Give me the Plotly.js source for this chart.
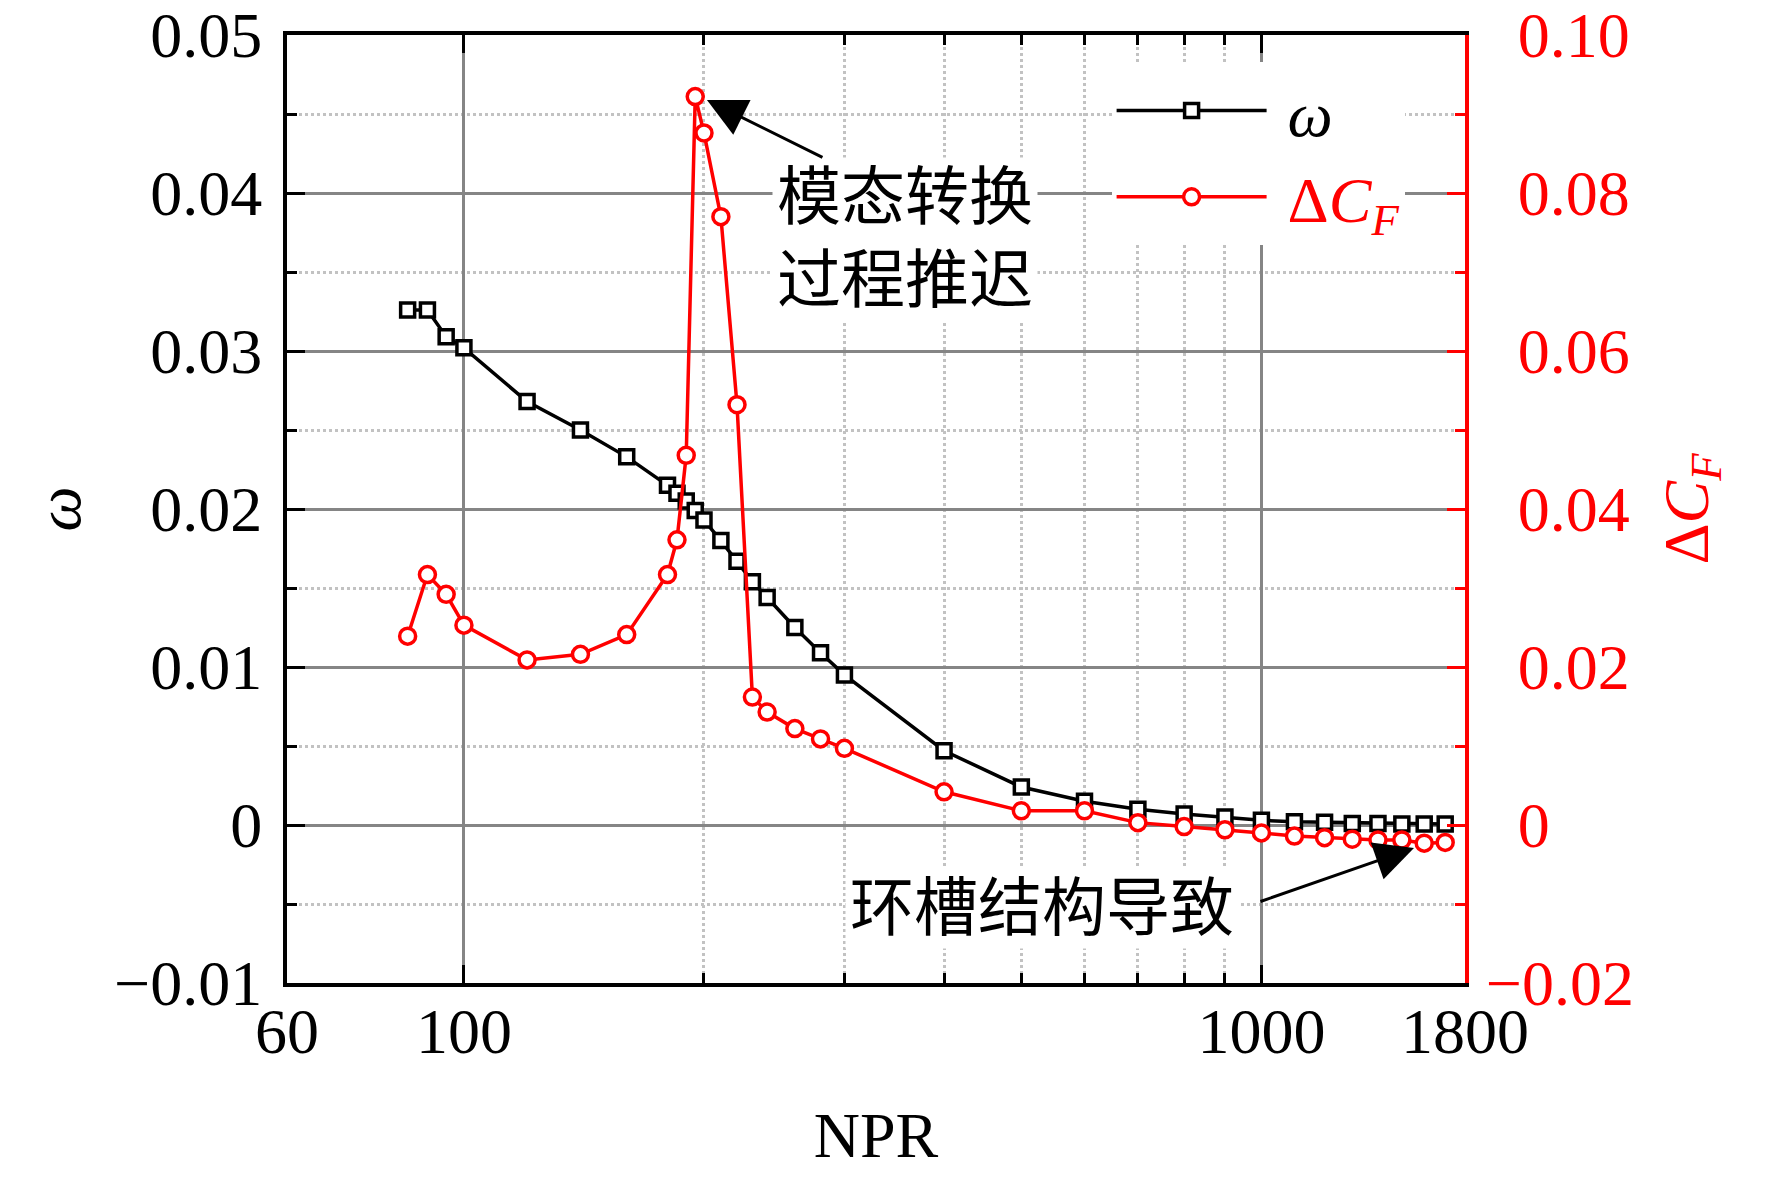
<!DOCTYPE html>
<html>
<head>
<meta charset="utf-8">
<script src="https://cdn.plot.ly/plotly-3.0.1.min.js"></script>
<style>
  html, body { margin: 0; padding: 0; background: #fff; }
</style>
</head>
<body>
<div id="chart"></div>
<script>
// NPR values (log axis)
const npr = [85, 90, 95, 100, 120, 140, 160, 180, 185, 190, 195, 200, 210, 220, 230, 240,
  260, 280, 300, 400, 500, 600, 700, 800, 900, 1000, 1100, 1200, 1300, 1400, 1500, 1600, 1700];

// omega, left axis
const omega = [0.0326, 0.0326, 0.0309, 0.0302, 0.0268, 0.0250, 0.0233, 0.0215, 0.0210, 0.0205,
  0.0199, 0.0193, 0.0180, 0.0167, 0.0154, 0.0144, 0.0125, 0.0109, 0.0095, 0.0047, 0.0024,
  0.0015, 0.0010, 0.0007, 0.0005, 0.0003, 0.0002, 0.00017, 0.0001, 0.0001, 0.00006, 0.00006, 0.00006];

// delta C_F, right axis
const dCF = [0.0239, 0.0317, 0.0292, 0.0253, 0.0209, 0.0216, 0.0241, 0.0317, 0.0361, 0.0468,
  0.0922, 0.0876, 0.0770, 0.0532, 0.0162, 0.0143, 0.0122, 0.0109, 0.0097, 0.0042, 0.0018,
  0.0018, 0.0003, -0.0002, -0.0006, -0.0010, -0.0014, -0.0016, -0.0018, -0.0019, -0.0019, -0.0023, -0.0022];

const xTicks = [60, 100, 1000, 1800];
const xMinor = [200, 300, 400, 500, 600, 700, 800, 900];
const y2Ticks = [-0.02, 0, 0.02, 0.04, 0.06, 0.08, 0.10];
// figure space in front keeps the right-hand labels lined up on their right edge
const y2Text = ['\u22120.02', '\u20070', '\u20070.02', '\u20070.04', '\u20070.06', '\u20070.08', '\u20070.10'];
const y2Minor = [-0.01, 0.01, 0.03, 0.05, 0.07, 0.09];

const SERIF = '"Liberation Serif", "Times New Roman", "Noto Sans CJK SC", serif';
const RED = 'rgb(255,0,0)';
const GRID = '#858585';
const DOT = '#c2c2c2';

var trace1 = {
  x: npr,
  y: omega,
  name: '\u00a0<i>ω</i>',
  type: 'scatter',
  mode: 'lines+markers',
  line: {color: 'black', width: 3.5},
  marker: {symbol: 'square', size: 14, color: 'white', line: {color: 'black', width: 3.5}},
  yaxis: 'y'
};

var trace2 = {
  x: npr,
  y: dCF,
  name: '\u00a0<span style="color:rgb(255,0,0)">Δ<i>C</i><sub><i>F</i></sub></span>',
  type: 'scatter',
  mode: 'lines+markers',
  line: {color: RED, width: 3.5},
  marker: {symbol: 'circle', size: 16, color: 'white', line: {color: RED, width: 3.5}},
  yaxis: 'y2'
};

var data = [trace1, trace2];

var layout = {
  width: 1772,
  height: 1177,
  margin: {l: 287, r: 307, t: 35, b: 194},
  paper_bgcolor: 'white',
  plot_bgcolor: 'white',
  font: {family: SERIF, size: 64, color: 'black'},
  showlegend: true,
  legend: {
    x: 0.70, y: 0.971, xanchor: 'left', yanchor: 'top',
    bgcolor: 'white', borderwidth: 0,
    font: {family: SERIF, size: 64, color: 'black'},
    itemwidth: 150
  },
  xaxis: {
    type: 'log',
    range: [Math.log10(60), Math.log10(1800)],
    tickvals: xTicks,
    ticktext: xTicks.map(String),
    showline: true, linecolor: 'black', linewidth: 4, mirror: 'ticks',
    ticks: 'inside', ticklen: 18, tickwidth: 3, tickcolor: 'black',
    ticklabelstandoff: -11,
    showgrid: true, gridcolor: GRID, gridwidth: 3,
    zeroline: false,
    minor: {
      tickvals: xMinor, ticks: 'inside', ticklen: 10, tickwidth: 3, tickcolor: 'black',
      showgrid: true, gridcolor: DOT, gridwidth: 3, griddash: 'dot'
    },
    title: {text: 'NPR', font: {family: SERIF, size: 64}, standoff: 47}
  },
  yaxis: {
    range: [-0.01, 0.05],
    tick0: 0, dtick: 0.01,
    showline: true, linecolor: 'black', linewidth: 4,
    ticks: 'inside', ticklen: 18, tickwidth: 3, tickcolor: 'black',
    ticklabelstandoff: 8,
    showgrid: true, gridcolor: GRID, gridwidth: 3,
    zeroline: false,
    minor: {
      dtick: 0.005, ticks: 'inside', ticklen: 10, tickwidth: 3, tickcolor: 'black',
      showgrid: true, gridcolor: DOT, gridwidth: 3, griddash: 'dot'
    },
    title: {text: '<i>ω</i>', font: {family: SERIF, size: 64}, standoff: 14}
  },
  yaxis2: {
    overlaying: 'y', side: 'right',
    range: [-0.02, 0.10],
    tickvals: y2Ticks, ticktext: y2Text,
    tickfont: {color: RED},
    showline: true, linecolor: RED, linewidth: 4,
    ticks: 'inside', ticklen: 18, tickwidth: 3, tickcolor: RED,
    ticklabelstandoff: 4,
    showgrid: false, zeroline: false,
    minor: {tickvals: y2Minor, ticks: 'inside', ticklen: 10, tickwidth: 3, tickcolor: RED, showgrid: false},
    title: {text: 'Δ<i>C</i><sub><i>F</i></sub>', font: {family: SERIF, size: 64, color: RED}, standoff: 31}
  },
  annotations: [
    {xref: 'paper', yref: 'paper', x: 0.5246, y: 0.7848, xanchor: 'center', yanchor: 'middle',
      text: '模态转换<br>过程推迟',
      showarrow: false, bgcolor: 'white', borderpad: 4, font: {family: SERIF, size: 64, color: 'black'}},
    {xref: 'paper', yref: 'paper', x: 0.3565, y: 0.9314, text: '', showarrow: true,
      ax: 117, ay: 58, arrowhead: 2, arrowsize: 2.6, arrowwidth: 3, arrowcolor: 'black'},
    {xref: 'paper', yref: 'paper', x: 0.6413, y: 0.0781, xanchor: 'center', yanchor: 'middle',
      text: '环槽结构导致',
      showarrow: false, bgcolor: 'white', borderpad: 4, font: {family: SERIF, size: 64, color: 'black'}},
    {xref: 'paper', yref: 'paper', x: 0.9567, y: 0.1424, text: '', showarrow: true,
      ax: -155, ay: 54, arrowhead: 2, arrowsize: 2.6, arrowwidth: 3, arrowcolor: 'black'}
  ]
};

Plotly.newPlot('chart', data, layout, {staticPlot: true});
</script>
</body>
</html>
